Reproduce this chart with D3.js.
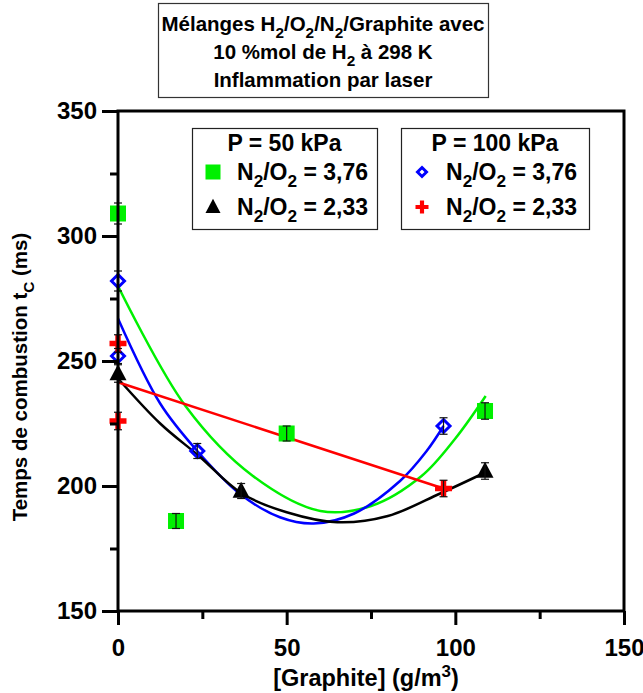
<!DOCTYPE html>
<html><head><meta charset="utf-8">
<script src="https://cdn.jsdelivr.net/npm/d3@7"></script>
<style>
body{margin:0;background:#fff;}
text{font-family:"Liberation Sans",Arial,sans-serif;font-weight:bold;fill:#000;}
</style></head>
<body><svg id="c" width="643" height="693"></svg>
<script>
// ---- data ----
const yMajorTicks = [150, 200, 250, 300, 350];
const yMinorTicks = [175, 225, 275, 325];
const xMajorTicks = [0, 50, 100, 150];
const xMinorTicks = [25, 75, 125];

// P = 50 kPa, N2/O2 = 3.76 (green squares)
const g50x = [0, 17.2, 50, 108.8];
const g50y = [309, 186, 221, 230];
const g50e = [4.2, 3, 3, 3.3];
// P = 50 kPa, N2/O2 = 2.33 (black triangles)
const b50x = [0, 36.5, 108.8];
const b50y = [245, 198, 206];
const b50e = [3.5, 3, 3.3];
// P = 100 kPa, N2/O2 = 3.76 (blue diamonds)
const d100x = [0, 0, 23.5, 96.5];
const d100y = [282, 252, 214, 224];
const d100e = [4, 3, 3, 3.3];
// P = 100 kPa, N2/O2 = 2.33 (red crosses)
const r100x = [0, 0, 96.5];
const r100y = [257, 226, 199];
const r100e = [3.5, 3.5, 3.3];

// fitted curves
const fitGreenX = [0, 20, 40, 60, 75, 90, 100, 109];
const fitGreenY = [280, 232, 204, 190, 192, 204, 219, 236];
const fitBlueX = [0, 12.5, 23.5, 36, 48, 58, 70, 83.6, 91.5, 96.5];
const fitBlueY = [267, 233, 214, 197, 187.5, 185, 189, 202, 214, 224];
const fitBlackX = [0, 12.5, 24, 36.7, 50, 65, 80, 95.5, 109];
const fitBlackY = [243, 225, 212, 197, 189.5, 185.5, 188, 197, 205.5];
const fitRedX = [0, 96.5];
const fitRedY = [241.5, 199];

const GREEN = "#00f000", BLUE = "#0000ff", RED = "#ff0000", BLACK = "#000000";

// ---- chart ----
const svg = d3.select("#c");
const x = d3.scaleLinear().domain([0, 150]).range([118, 624]);
const y = d3.scaleLinear().domain([150, 350]).range([611, 111]);

function rich(sel, parts, fs) {
  parts.forEach(p => {
    if (typeof p === "string") sel.append("tspan").text(p);
    else if (p.sub) { sel.append("tspan").attr("dy", fs*0.32).attr("font-size", fs*0.75).text(p.sub);
      sel.append("tspan").attr("dy", -fs*0.32).text("\u200b"); }
    else if (p.sup) { sel.append("tspan").attr("dy", -fs*0.38).attr("font-size", fs*0.72).text(p.sup);
      sel.append("tspan").attr("dy", fs*0.38).text("\u200b"); }
  });
}

// title box
const tb = svg.append("g");
tb.append("rect").attr("x", 158.5).attr("y", 3.5).attr("width", 330).attr("height", 94)
  .attr("fill", "#fff").attr("stroke", "#333").attr("stroke-width", 1.2);
const TFS = 20.5;
[[["Mélanges H", {sub: "2"}, "/O", {sub: "2"}, "/N", {sub: "2"}, "/Graphite avec"], 31],
 [["10 %mol de H", {sub: "2"}, " à 298 K"], 59],
 [["Inflammation par laser"], 87]].forEach(([parts, yy]) => {
  const t = tb.append("text").attr("x", 323).attr("y", yy).attr("text-anchor", "middle").attr("font-size", TFS);
  rich(t, parts, TFS);
});

// curves
const line = d3.line().x(d => x(d[0])).y(d => y(d[1])).curve(d3.curveCatmullRom.alpha(0.5));
const curves = [[fitGreenX, fitGreenY, GREEN], [fitBlueX, fitBlueY, BLUE], [fitBlackX, fitBlackY, BLACK], [fitRedX, fitRedY, RED]];
curves.forEach(([xs, ys, c]) => {
  svg.append("path").datum(xs.map((v, i) => [v, ys[i]])).attr("d", line)
    .attr("fill", "none").attr("stroke", c).attr("stroke-width", 2.5);
});

// markers
function marker(g, type, cx, cy, s) {
  if (type === "square") g.append("rect").attr("x", cx - s/2).attr("y", cy - s/2).attr("width", s).attr("height", s).attr("fill", GREEN);
  if (type === "triangle") g.append("path").attr("d", `M${cx},${cy - s*0.55}L${cx + s/2},${cy + s*0.4}L${cx - s/2},${cy + s*0.4}Z`).attr("fill", BLACK);
  if (type === "diamond") { const h = s/2 - 1.5; g.append("path").attr("d", `M${cx},${cy - h}L${cx + h},${cy}L${cx},${cy + h}L${cx - h},${cy}Z`).attr("fill", "none").attr("stroke", BLUE).attr("stroke-width", 3); }
  if (type === "cross") { const a = s/2, w = s*0.16; g.append("path").attr("d", `M${cx - a},${cy - w}H${cx + a}V${cy + w}H${cx - a}Z M${cx - w},${cy - a}H${cx + w}V${cy + a}H${cx - w}Z`).attr("fill", RED); }
}
const series = [[g50x, g50y, g50e, "square", 16], [b50x, b50y, b50e, "triangle", 17], [d100x, d100y, d100e, "diamond", 16], [r100x, r100y, r100e, "cross", 17]];
const mg = svg.append("g");
series.forEach(([xs, ys, es, t, s]) => xs.forEach((v, i) => marker(mg, t, x(v), y(ys[i]), s)));
// error bars
const eg = svg.append("g").attr("stroke", "#111").attr("stroke-width", 1.2);
series.forEach(([xs, ys, es]) => xs.forEach((v, i) => {
  const cx = x(v), y1 = y(ys[i] + es[i]), y2 = y(ys[i] - es[i]);
  eg.append("line").attr("x1", cx).attr("x2", cx).attr("y1", y1).attr("y2", y2);
  eg.append("line").attr("x1", cx - 4).attr("x2", cx + 4).attr("y1", y1).attr("y2", y1);
  eg.append("line").attr("x1", cx - 4).attr("x2", cx + 4).attr("y1", y2).attr("y2", y2);
}));

// axes
const AFS = 24;
const yAx = svg.append("g").attr("transform", "translate(118,0)")
  .call(d3.axisLeft(y).tickValues(yMajorTicks).tickSize(16).tickPadding(5).tickFormat(d3.format("d")));
const yAxm = svg.append("g").attr("transform", "translate(118,0)")
  .call(d3.axisLeft(y).tickValues(yMinorTicks).tickSize(8).tickFormat(""));
const xAx = svg.append("g").attr("transform", "translate(0,611)")
  .call(d3.axisBottom(x).tickValues(xMajorTicks).tickSize(14).tickPadding(14).tickFormat(d3.format("d")));
const xAxm = svg.append("g").attr("transform", "translate(0,611)")
  .call(d3.axisBottom(x).tickValues(xMinorTicks).tickSize(8).tickFormat(""));
[yAx, yAxm, xAx, xAxm].forEach(a => {
  a.select(".domain").remove();
  a.selectAll("line").attr("stroke", "#000").attr("stroke-width", 3);
  a.selectAll("text").attr("font-size", AFS).attr("font-family", "Liberation Sans, Arial, sans-serif").attr("font-weight", "bold");
});
// frame
svg.append("rect").attr("x", 118).attr("y", 111).attr("width", 506).attr("height", 500)
  .attr("fill", "none").attr("stroke", "#000").attr("stroke-width", 3);

// axis titles
const YFS = 20.5;
const yt = svg.append("text").attr("transform", "translate(27,377) rotate(-90)").attr("text-anchor", "middle").attr("font-size", YFS);
rich(yt, ["Temps de combustion t", {sub: "C"}, " (ms)"], YFS);
const XFS = 23.5;
const xt = svg.append("text").attr("x", 366).attr("y", 686).attr("text-anchor", "middle").attr("font-size", XFS);
rich(xt, ["[Graphite] (g/m", {sup: "3"}, ")"], XFS);

// legends
const LFS = 23;
function legend(bx, by, bw, bh, title, items) {
  const g = svg.append("g");
  g.append("rect").attr("x", bx + 0.5).attr("y", by + 0.5).attr("width", bw).attr("height", bh)
    .attr("fill", "#fff").attr("stroke", "#222").attr("stroke-width", 1.2);
  g.append("text").attr("x", bx + bw/2).attr("y", by + 23).attr("text-anchor", "middle").attr("font-size", LFS).text(title);
  items.forEach((it, i) => {
    const yy = by + 44 + i*35;
    marker(g, it.type, bx + 21, yy, it.size);
    const t = g.append("text").attr("x", bx + 45).attr("y", yy + 8).attr("font-size", LFS);
    rich(t, ["N", {sub: "2"}, "/O", {sub: "2"}, " = " + it.label], LFS);
  });
}
legend(192, 128, 185, 101, "P = 50 kPa", [{type: "square", size: 15, label: "3,76"}, {type: "triangle", size: 15, label: "2,33"}]);
legend(401, 128, 188, 101, "P = 100 kPa", [{type: "diamond", size: 12, label: "3,76"}, {type: "cross", size: 13, label: "2,33"}]);
</script></body></html>
